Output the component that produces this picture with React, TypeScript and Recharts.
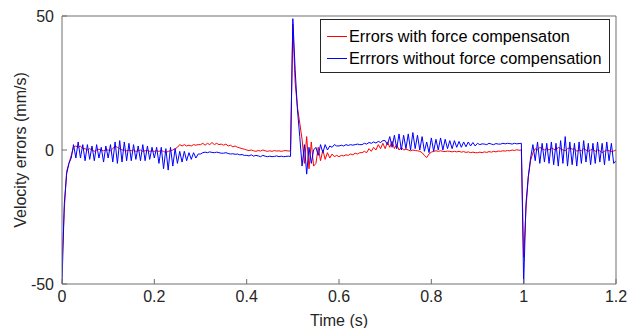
import {
  LineChart, Line, XAxis, YAxis, Label,
} from 'recharts';

// samples every 5 ms, 0 .. 1.2 s
const STEP = 0.005;

const withComp = [
  -42, -22, -8, -5, -2, 1, 1.5, 1, 1.5, 0.5,
  0.5, 0, 0.5, 0, -0.5, 0, 0.3, 0, -0.3, 0,
  0, -0.3, 0.5, 1.5, 1, 0.5, 0, 0, -0.3, 0,
  -0.3, 0, -0.5, -0.3, 0, -0.5, -0.3, -0.2, -0.5, -0.3,
  -0.5, -0.3, -0.5, -0.2, -0.5, -1, -0.5, -0.3, 0, 0.5,
  1, 2, 1.5, 2, 1.5, 1.8, 1.5, 2, 1.8, 2,
  2, 2.5, 1.8, 2.5, 2, 2.8, 2, 2.5, 2, 2.2,
  1.8, 2.2, 1.5, 1.8, 1.2, 1.5, 1, 0.8, 0.5, 0.3,
  0, -0.2, 0, -0.3, -0.5, -0.2, -0.4, 0, -0.3, -0.5,
  -0.3, -0.5, -0.2, -0.4, -0.3, -0.5, -0.3, -0.2, -0.4, -0.3,
  47, 25, 16, 10, 4, -5, 5, -7, 3, -6,
  -5, 1, -4, 0, -3.5, -1, -3, -1.5, -2.5, -2,
  -2.5, -2, -2.2, -1.8, -2, -1.5, -1.8, -1.2, -1.5, -1,
  -1, -0.5, -1, 0.5, -0.5, 1, 0, 2, 0.5, 2.5,
  0.5, 3, 1, 3.3, 0.5, 2, 0, 1, 0, 0.3,
  0, -0.3, 0, -0.2, -0.3, -0.5, -1, -2, -2.8, -1.5,
  -0.8, -0.5, -0.3, -0.5, -0.3, -0.5, -0.6, -0.4, -0.5, -0.7,
  -0.5, -0.7, -0.5, -0.8, -0.6, -0.9, -0.7, -1, -0.8, -1,
  -1, -0.8, -1, -0.7, -0.9, -0.6, -0.8, -0.5, -0.7, -0.4,
  -0.5, -0.3, -0.4, -0.2, -0.3, 0, -0.2, 0.1, -0.1, 0,
  -40, -22, -10, -4, -1, 0.5, 0, 1, 0.5, 0,
  0.5, 0, 0.8, 0.3, 0, 1, 0.5, 0, -0.3, 0.5,
  0.8, 0.3, 0.5, -0.5, 0, -0.3, 0.5, 0, -0.5, 0,
  0.3, -0.5, 0, -0.3, -1, -0.5, 0, -0.3, -0.6, -0.4,
  0,
];

const withoutComp = [
  -50, -20, -9, -5, -3, 2, -3, 3, -3, 2,
  -4, 2, -3.5, 1.5, -4, 2, -3, 1, -4.5, 1.5,
  -3, 2, -4.5, 3, -5, 3.5, -4.5, 3, -4, 2.5,
  -4, 2, -3.5, 1.5, -4, 2, -4, 1.5, -3.5, 1,
  -3, 1, -5, 1, -7, 0.5, -7.5, 1, -6, 0.5,
  -5, -0.5, -4.5, -0.5, -4, -1, -3.5, -1, -3, -1.5,
  -1.5, -1, -0.8, -1, -0.7, -0.9, -1, -0.8, -1, -1.2,
  -1.2, -1, -1.3, -1.5, -1.4, -1.6, -1.5, -1.8, -1.7, -2,
  -2, -2.2, -1.8, -2.3, -2, -2.2, -2.5, -2, -2.3, -2.5,
  -2.3, -2.5, -2.4, -2.2, -2.5, -2.3, -2.5, -2.4, -2.3, -2.4,
  49, 30, 15, 5, -6, 2, -9, 1, -5, 0,
  1, -2, 2, -1, 2, 0, 1.5, 1, 2, 1.5,
  1.5, 1.8, 1.5, 2, 1.7, 2, 1.8, 2, 2.2, 2,
  2, 2.5, 2.2, 2.8, 2.5, 3, 2.6, 3.2, 2.8, 3.5,
  3.5, 2, 5, 1, 5.5, 0.5, 6, 0, 5.5, 0.5,
  6, 0, 6.5, 0.5, 5.5, 0, 5, -0.5, 3, -1,
  4.5, -0.5, 4, 0, 4.5, 0, 4, 0.5, 3.5, 0.5,
  3.5, 1, 3.2, 1, 3, 1.2, 3, 1.5, 2.8, 1.5,
  2.5, 2, 2.3, 2.2, 2, 2.5, 2.2, 2, 2.4, 2.2,
  2.2, 2.5, 2.3, 2.5, 2.4, 2.2, 2.5, 2.3, 2.4, 2.5,
  -50, -20, -10, -3, 2, -4, 3, -5, 2.5, -4.5,
  2.5, -5, 3, -5.5, 2.5, -6, 3.5, -5, 5, -6,
  3, -5.5, 2.5, -6, 3, -5, 3.5, -4.5, 2.5, -5.5,
  2.5, -5, 3, -4.5, 2.5, -5.5, 3, -4, 2.5, -5,
  -4,
];

const xTicks = [0, 0.2, 0.4, 0.6, 0.8, 1, 1.2];
const yTicks = [-50, 0, 50];

const data = withComp.map((v, i) => ({
  t: +(i * STEP).toFixed(3),
  a: v,
  b: withoutComp[i],
}));

const FONT = '"Liberation Sans", Arial, sans-serif';
const AX = '#6e6e6e';
const TXT = '#262626';
const FS = 16;

const legendItems = [
  { label: 'Errors with force compensaton', color: '#ff0000' },
  { label: 'Errrors without force compensation', color: '#0000ff' },
];

function LegendBox() {
  return (
    <div style={{
      position: 'absolute', left: 320, top: 19,
      border: '1px solid #262626', background: '#fff', padding: '5px 8px 3px 6px',
      fontFamily: FONT, fontSize: 16.3, color: '#000', lineHeight: '22px',
    }}>
      {legendItems.map((it) => (
        <div key={it.label} style={{ display: 'flex', alignItems: 'center', whiteSpace: 'nowrap' }}>
          <span style={{ display: 'inline-block', width: 20, height: 1, background: it.color, marginRight: 2 }} />
          {it.label}
        </div>
      ))}
    </div>
  );
}

export default function App() {
  return (
    <div style={{ position: 'absolute', left: 0, top: 0, width: 630, height: 328, background: '#fff' }}>
      <LineChart
        width={630}
        height={328}
        data={data}
        margin={{ top: 15, right: 13, bottom: 0, left: 16 }}
        style={{ fontFamily: FONT }}
      >
        <XAxis
          dataKey="t"
          type="number"
          domain={[0, 1.2]}
          ticks={xTicks}
          allowDataOverflow
          height={44}
          stroke={AX}
          tickSize={-5}
          tickMargin={12}
          tick={{ fill: TXT, fontSize: FS }}
          tickFormatter={(v) => String(v)}
        >
          <Label value="Time (s)" position="insideBottom" offset={2} fill={TXT} fontSize={FS} />
        </XAxis>
        <XAxis
          xAxisId="top"
          dataKey="t"
          orientation="top"
          type="number"
          domain={[0, 1.2]}
          ticks={xTicks}
          allowDataOverflow
          height={1}
          stroke={AX}
          tickSize={-5}
          tick={false}
        />
        <YAxis
          type="number"
          domain={[-50, 50]}
          ticks={yTicks}
          allowDataOverflow
          width={46}
          stroke={AX}
          tickSize={-5}
          tickMargin={13}
          tick={{ fill: TXT, fontSize: FS }}
        >
          <Label
            content={() => (
              <text
                x={26}
                y={150}
                transform="rotate(-90 26 150)"
                textAnchor="middle"
                fill={TXT}
                fontSize={FS}
                fontFamily={FONT}
              >
                Velocity errors (mm/s)
              </text>
            )}
          />
        </YAxis>
        <YAxis
          yAxisId="right"
          orientation="right"
          type="number"
          domain={[-50, 50]}
          ticks={yTicks}
          allowDataOverflow
          width={1}
          stroke={AX}
          tickSize={-5}
          tick={false}
        />
        <Line
          dataKey="a"
          stroke="#ff0000"
          strokeWidth={1}
          dot={false}
          isAnimationActive={false}
          name="Errors with force compensaton"
        />
        <Line
          dataKey="b"
          stroke="#0000ff"
          strokeWidth={1}
          dot={false}
          isAnimationActive={false}
          name="Errrors without force compensation"
        />
        {/* hidden helper series keep the top/right frame axes in use */}
        <Line
          xAxisId="top"
          yAxisId="right"
          dataKey="a"
          stroke="none"
          dot={false}
          legendType="none"
          isAnimationActive={false}
        />
      </LineChart>
      <LegendBox />
    </div>
  );
}
